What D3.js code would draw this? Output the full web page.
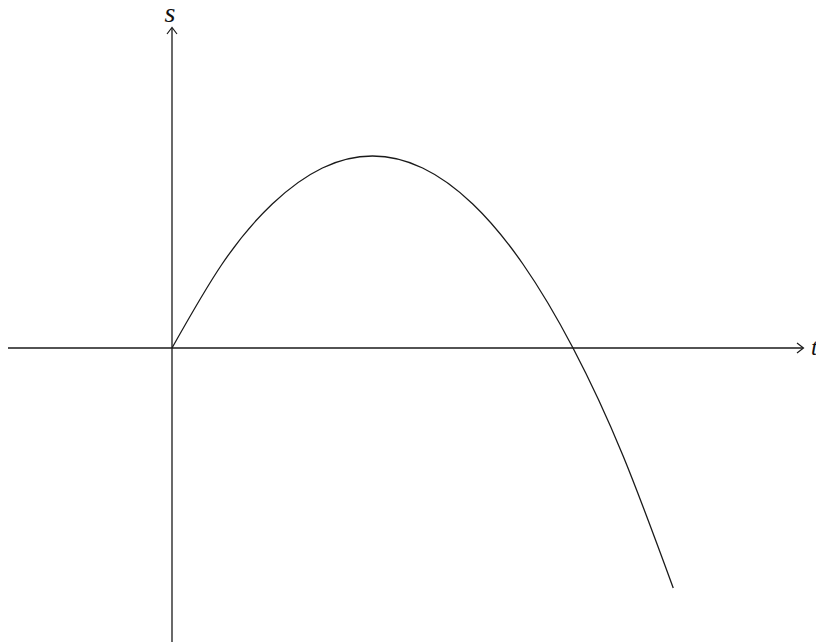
<!DOCTYPE html>
<html lang="en">
  <head>
    <meta charset="utf-8">
    <title>s-t graph</title>
    <script src="https://d3js.org/d3.v7.min.js"></script>
    <style type="text/css">
      body { margin: 0; background: white; }
      svg { display: block; }
      .axis-label {
        font-family: "Liberation Serif", "DejaVu Serif", serif;
        font-style: italic;
        fill: #111;
      }
    </style>
  </head>
  <body>
    <svg width="816" height="642"></svg>

    <script type="text/javascript">
      // values (time t, displacement s)
      const tValues = [0, 0.5, 1, 1.5, 2, 2.5, 3, 3.5, 4, 4.5, 5];
      const sValues = [0, 1.75, 3, 3.75, 4, 3.75, 3, 1.75, 0, -2.25, -5];
      const axisNames = ["t", "s"];

      const points = tValues.map((t, i) => [t, sValues[i]]);

      const svg = d3.select("svg");

      // origin sits at (172, 348); t = 4 lands at 573, s = 4 at 156
      const x = d3.scaleLinear().domain([0, 4]).range([172, 573]);
      const y = d3.scaleLinear().domain([0, 4]).range([348, 156]);

      const ink = "#1a1a1a";

      // axes
      svg.append("line")
         .attr("x1", 8).attr("x2", 803)
         .attr("y1", y(0)).attr("y2", y(0))
         .attr("stroke", ink).attr("stroke-width", 1.3);

      svg.append("line")
         .attr("x1", x(0)).attr("x2", x(0))
         .attr("y1", 28).attr("y2", 642)
         .attr("stroke", ink).attr("stroke-width", 1.3);

      // open arrow heads
      const arrow = d3.line();
      svg.append("path")
         .attr("d", arrow([[797, y(0) - 5], [803.5, y(0)], [797, y(0) + 5]]))
         .attr("fill", "none").attr("stroke", ink).attr("stroke-width", 1.2);

      svg.append("path")
         .attr("d", arrow([[x(0) - 5, 34], [x(0), 27.5], [x(0) + 5, 34]]))
         .attr("fill", "none").attr("stroke", ink).attr("stroke-width", 1.2);

      // axis names
      svg.append("text")
         .attr("class", "axis-label")
         .attr("x", 811)
         .attr("y", y(0) + 7)
         .attr("font-size", "24px")
         .text(axisNames[0]);

      svg.append("text")
         .attr("class", "axis-label")
         .attr("x", x(0) - 2)
         .attr("y", 22)
         .attr("text-anchor", "middle")
         .attr("font-size", "28px")
         .text(axisNames[1]);

      // the curve
      const curve = d3.line()
                      .x(d => x(d[0]))
                      .y(d => y(d[1]))
                      .curve(d3.curveNatural);

      svg.append("path")
         .datum(points)
         .attr("d", curve)
         .attr("fill", "none")
         .attr("stroke", ink)
         .attr("stroke-width", 1.3);
    </script>
  </body>
</html>
